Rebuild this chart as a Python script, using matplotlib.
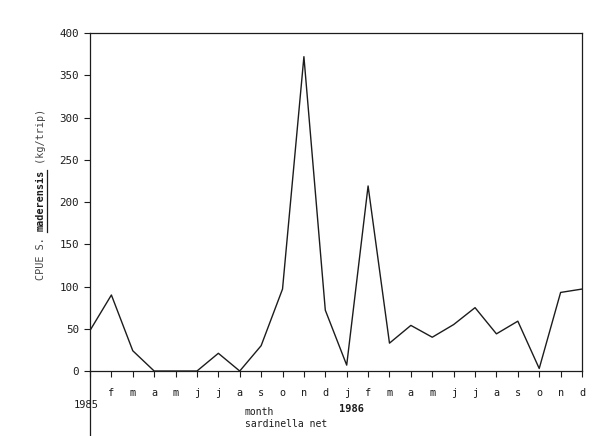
import matplotlib
matplotlib.use('Agg')
import matplotlib.pyplot as plt

plt.rcParams['font.family'] = 'DejaVu Sans Mono'
plt.rcParams['font.size'] = 7

INK = '#1c1c1c'

# monthly CPUE, Jan 1985 .. Dec 1986
months = ['', 'f', 'm', 'a', 'm', 'j', 'j', 'a', 's', 'o', 'n', 'd',
          'j', 'f', 'm', 'a', 'm', 'j', 'j', 'a', 's', 'o', 'n', 'd']
cpue = [48, 90, 24, 0, 0, 0, 21, 0, 30, 97, 372, 72,
        7, 219, 33, 54, 40, 55, 75, 44, 59, 3, 93, 97]
y_ticks = [0, 50, 100, 150, 200, 250, 300, 350, 400]

fig = plt.figure(figsize=(6, 4.36), dpi=100)
ax = fig.add_axes([0.15, 0.149, 0.82, 0.7753])

x = list(range(len(cpue)))
ax.plot(x, cpue, color=INK, lw=1.0)

ax.set_xlim(0, len(cpue) - 1)
ax.set_ylim(0, 400)
ax.set_yticks(y_ticks)
ax.set_xticks(x)
ax.set_xticklabels(months)
ax.tick_params(axis='both', direction='out', length=4, width=0.8, colors=INK)
ax.tick_params(axis='y', labelsize=7.8, pad=4)
ax.tick_params(axis='x', labelsize=7.3, pad=8)
for s in ax.spines.values():
    s.set_color(INK)
    s.set_linewidth(0.9)

# left axis line runs on below the plot as in the original
ax.plot([0, 0], [0, -0.2], color=INK, lw=0.9, transform=ax.transAxes,
        clip_on=False)

# y label in three pieces so the species name can be bold and underlined
lab_x = 0.068
lab_col = '#444444'
fig.text(lab_x, 1 - 280 / 436, 'CPUE S. ', rotation=90, ha='center',
         va='bottom', fontsize=7.3, color=lab_col)
fig.text(lab_x, 1 - 231 / 436, 'maderensis', rotation=90, ha='center',
         va='bottom', fontsize=7.3, color=INK, fontweight='bold')
fig.text(lab_x, 1 - 170 / 436, ' (kg/trip)', rotation=90, ha='center',
         va='bottom', fontsize=7.3, color=lab_col)
fig.add_artist(plt.Line2D([0.078, 0.078], [1 - 232 / 436, 1 - 170 / 436],
                          color=INK, lw=0.9))

fig.text(0.143, 0.07, '1985', ha='center', va='center', fontsize=7.5, color=INK)
fig.text(0.585, 0.062, '1986', ha='center', va='center', fontsize=7.5,
         fontweight='bold', color=INK)
fig.text(0.408, 1 - 412 / 436, 'month', ha='left', va='center',
         fontsize=7, color=INK)
fig.text(0.408, 1 - 424 / 436, 'sardinella net', ha='left', va='center',
         fontsize=7, color=INK)

fig.savefig('out.png', dpi=100, facecolor='white')
